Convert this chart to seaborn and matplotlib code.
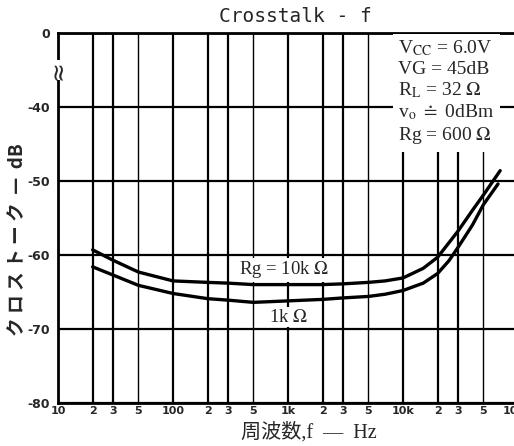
import matplotlib
matplotlib.use("Agg")
import matplotlib.pyplot as plt
import matplotlib.ticker as mticker
import pandas as pd
import seaborn as sns

# (Hz, dB)
freq_10k = [20, 30, 50, 100, 200, 300, 500, 1000, 2000, 3000, 5000, 7000,
            10000, 15000, 20000, 30000, 40000, 50000, 70000]
xtalk_10k = [-59.3, -60.7, -62.3, -63.5, -63.7, -63.8, -64.0, -64.0, -64.0,
             -63.9, -63.7, -63.5, -63.1, -61.8, -60.3, -56.8, -54.0, -51.9, -48.6]
freq_1k = [20, 30, 50, 100, 200, 300, 500, 1000, 2000, 3000, 5000, 7000,
           10000, 15000, 20000, 25000, 30000, 40000, 50000, 67000]
xtalk_1k = [-61.6, -62.7, -64.1, -65.2, -65.9, -66.1, -66.4, -66.2, -66.0,
            -65.8, -65.6, -65.3, -64.8, -63.8, -62.5, -60.8, -59.0, -56.0, -53.2, -50.4]

ytick_pos = [-80, -70, -60, -50, -40, -30]
ytick_lbl = ['-80', '-70', '-60', '-50', '-40', '0']

conditions = ["V$_{\\mathrm{CC}}$ = 6.0V", "VG = 45dB", "R$_{\\mathrm{L}}$ = 32 $\\Omega$",
              "v$_{\\mathrm{o}}$ $\\doteq$ 0dBm", "Rg = 600 $\\Omega$"]

df = pd.concat([
    pd.DataFrame({'f': freq_10k, 'ct': xtalk_10k, 'Rg': '10k'}),
    pd.DataFrame({'f': freq_1k, 'ct': xtalk_1k, 'Rg': '1k'}),
])

sns.set_style("white")
plt.rcParams['mathtext.fontset'] = 'stix'
fig = plt.figure(figsize=(5.14, 4.46), dpi=100)
ax = fig.add_axes([58 / 514, 43 / 446, 460 / 514, 370 / 446])

sns.lineplot(data=df, x='f', y='ct', hue='Rg', palette={'10k': 'black', '1k': 'black'},
             linewidth=2.4, legend=False, ax=ax, zorder=4, sort=False)

ax.set_xscale('log')
ax.set_xlim(10, 100000)
ax.set_ylim(-80, -30)


def fmt(v, pos=None):
    if v in (10, 100):
        return str(int(v))
    if v == 1000:
        return '1k'
    if v == 10000:
        return '10k'
    if v == 100000:
        return '100k'
    return str(int(round(v / 10 ** int(len(str(int(round(v)))) - 1))))


ax.xaxis.set_major_locator(mticker.LogLocator(base=10, subs=(1, 2, 3)))
ax.xaxis.set_minor_locator(mticker.LogLocator(base=10, subs=(5,)))
ax.xaxis.set_major_formatter(mticker.FuncFormatter(fmt))
ax.xaxis.set_minor_formatter(mticker.FuncFormatter(fmt))
ax.yaxis.set_major_locator(mticker.FixedLocator(ytick_pos))
ax.yaxis.set_major_formatter(mticker.FixedFormatter(ytick_lbl))

ax.grid(True, which='major', color='black', linewidth=1.6)
ax.grid(True, which='minor', axis='x', color='black', linewidth=1.0)
ax.tick_params(which='both', length=0)
ax.tick_params(axis='x', which='both', pad=2)
ax.tick_params(axis='y', pad=6)
for lab in ax.get_xticklabels(which='both'):
    lab.set_fontsize(8)
    lab.set_fontweight('bold')
for lab in ax.get_yticklabels():
    lab.set_fontsize(9)
    lab.set_fontweight('bold')

for side in ['left', 'bottom', 'top']:
    ax.spines[side].set_linewidth(2)
    ax.spines[side].set_color('black')
ax.spines['right'].set_visible(False)

# axis break mark on the left spine
ax.text(10, -35, '\u2248', rotation=90, fontsize=17, ha='center', va='center',
        bbox=dict(facecolor='white', edgecolor='none', pad=0), zorder=5)

ax.set_xlabel('')
ax.set_ylabel('')
fig.text(295 / 514, 1 - 17 / 446, 'Crosstalk - f', family='DejaVu Sans Mono',
         fontsize=14, ha='center', va='center')
fig.text(309 / 514, 1 - 432 / 446, '周波数,f  —  Hz',
         family=['Liberation Serif', 'Noto Sans CJK JP'], fontsize=14.5,
         ha='center', va='center')
fig.text(18 / 514, 1 - 240 / 446, 'ク ロ ス ト ー ク  —  dB', rotation=90,
         family=['Noto Sans CJK JP', 'DejaVu Sans'], fontweight='bold',
         fontsize=13.5, ha='center', va='center')

ax.text(0.74, 0.985, '\n'.join(conditions), transform=ax.transAxes,
        family='Liberation Serif', fontsize=14, ha='left', va='top',
        linespacing=1.18, zorder=6,
        bbox=dict(facecolor='white', edgecolor='none', pad=4))
ax.text(920, -62.0, 'Rg = 10k $\\Omega$', family='Liberation Serif', fontsize=13.5,
        ha='center', va='center', zorder=6,
        bbox=dict(facecolor='white', edgecolor='none', pad=1))
ax.text(1000, -68.4, '1k $\\Omega$', family='Liberation Serif', fontsize=13.5,
        ha='center', va='center', zorder=6,
        bbox=dict(facecolor='white', edgecolor='none', pad=1))

fig.savefig('out.png', dpi=100)
